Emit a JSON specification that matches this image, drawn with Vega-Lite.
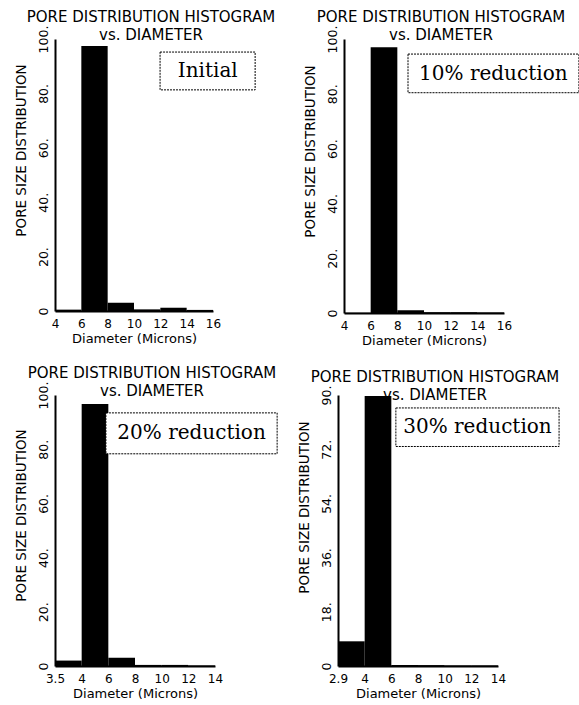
{
  "$schema": "https://vega.github.io/schema/vega-lite/v6.json",
  "background": "white",
  "padding": {"left": 14, "top": 10, "right": 0, "bottom": 0},
  "config": {
    "view": {"stroke": null},
    "font": "DejaVu Sans",
    "axis": {"grid": false, "ticks": false, "domainColor": "black", "domainWidth": 2, "labelColor": "black", "titleColor": "black", "labelFont": "DejaVu Sans", "titleFont": "DejaVu Sans", "labelFontSize": 12, "titleFontSize": 13, "titleFontWeight": "normal", "labelOverlap": false, "labelBound": false, "labelFlush": false},
    "axisX": {"labelFlush": false},
    "axisY": {"labelFontSize": 12.5, "titleFontSize": 13.5},
    "title": {"font": "DejaVu Sans", "fontSize": 15, "fontWeight": "normal", "color": "black", "subtitleFont": "DejaVu Sans", "subtitleFontSize": 15, "subtitleColor": "black", "subtitlePadding": 3, "anchor": "middle", "frame": "group", "offset": -18, "dx": 17}
  },
  "datasets": {
    "bins": [
      {"panel": "Initial", "lo": 0, "hi": 1, "value": 0.5},
      {"panel": "Initial", "lo": 1, "hi": 2, "value": 97.4},
      {"panel": "Initial", "lo": 2, "hi": 3, "value": 3},
      {"panel": "Initial", "lo": 3, "hi": 4, "value": 0.6},
      {"panel": "Initial", "lo": 4, "hi": 5, "value": 1.2},
      {"panel": "Initial", "lo": 5, "hi": 6, "value": 0.4},
      {"panel": "10%", "lo": 0, "hi": 1, "value": 0.1},
      {"panel": "10%", "lo": 1, "hi": 2, "value": 97},
      {"panel": "10%", "lo": 2, "hi": 3, "value": 1},
      {"panel": "10%", "lo": 3, "hi": 4, "value": 0.3},
      {"panel": "10%", "lo": 4, "hi": 5, "value": 0.3},
      {"panel": "10%", "lo": 5, "hi": 6, "value": 0.2},
      {"panel": "20%", "lo": 0, "hi": 1, "value": 2},
      {"panel": "20%", "lo": 1, "hi": 2, "value": 96.7},
      {"panel": "20%", "lo": 2, "hi": 3, "value": 3},
      {"panel": "20%", "lo": 3, "hi": 4, "value": 0.4},
      {"panel": "20%", "lo": 4, "hi": 5, "value": 0.4},
      {"panel": "20%", "lo": 5, "hi": 6, "value": 0.2},
      {"panel": "30%", "lo": 0, "hi": 1, "value": 8.2},
      {"panel": "30%", "lo": 1, "hi": 2, "value": 89.7},
      {"panel": "30%", "lo": 2, "hi": 3, "value": 0.3},
      {"panel": "30%", "lo": 3, "hi": 4, "value": 0.3},
      {"panel": "30%", "lo": 4, "hi": 5, "value": 0.2},
      {"panel": "30%", "lo": 5, "hi": 6, "value": 0.2}
    ],
    "notes": [
      {"panel": "Initial", "label": "Initial", "x0": 3.99, "x1": 7.6, "y0": 81.3, "y1": 95.2, "xc": 5.8, "yc": 88.2},
      {"panel": "10%", "label": "10% reduction", "x0": 2.4, "x1": 8.81, "y0": 80.4, "y1": 94.5, "xc": 5.6, "yc": 87.4},
      {"panel": "20%", "label": "20% reduction", "x0": 1.91, "x1": 8.33, "y0": 78.3, "y1": 93.4, "xc": 5.12, "yc": 85.8},
      {"panel": "30%", "label": "30% reduction", "x0": 2.17, "x1": 8.29, "y0": 72.9, "y1": 85.7, "xc": 5.23, "yc": 79.3}
    ]
  },
  "spacing": 19,
  "vconcat": [
    {
      "hconcat": [
        {
          "width": 158, "height": 272,
          "title": {"text": "PORE DISTRIBUTION HISTOGRAM", "subtitle": "vs. DIAMETER"},
          "layer": [
            {
              "data": {"name": "bins"},
              "transform": [{"filter": "datum.panel == 'Initial'"}],
              "mark": {"type": "rect", "color": "black"},
              "encoding": {
                "x": {"field": "lo", "type": "quantitative", "scale": {"domain": [0, 6], "nice": false, "zero": false}, "axis": {"values": [0,1,2,3,4,5,6], "labelOverlap": false, "labelFlush": false, "labelExpr": "['4','6','8','10','12','14','16'][datum.value]", "title": "Diameter (Microns)", "labelPadding": 7, "titlePadding": 3}},
                "x2": {"field": "hi"},
                "y": {"field": "value", "type": "quantitative", "scale": {"domain": [0, 100], "nice": false, "zero": false}, "axis": {"values": [0,20,40,60,80,100], "labelOverlap": false, "labelExpr": "datum.value == 0 ? '0' : datum.value + '.'", "labelAngle": 270, "labelPadding": 5, "title": "PORE SIZE DISTRIBUTION", "titlePadding": 9, "titleY": 111}},
                "y2": {"datum": 0}
              }
            },
            {
              "data": {"name": "notes"},
              "transform": [{"filter": "datum.panel == 'Initial'"}],
              "mark": {"type": "rect", "fill": "white", "stroke": "black", "strokeWidth": 1, "strokeDash": [2, 1], "clip": false},
              "encoding": {
                "x": {"field": "x0", "type": "quantitative", "scale": {"domain": [0, 6], "nice": false, "zero": false}, "axis": {"values": [0,1,2,3,4,5,6], "labelOverlap": false, "labelFlush": false, "labelExpr": "['4','6','8','10','12','14','16'][datum.value]", "title": "Diameter (Microns)", "labelPadding": 7, "titlePadding": 3}},
                "x2": {"field": "x1"},
                "y": {"field": "y0", "type": "quantitative", "scale": {"domain": [0, 100], "nice": false, "zero": false}, "axis": {"values": [0,20,40,60,80,100], "labelOverlap": false, "labelExpr": "datum.value == 0 ? '0' : datum.value + '.'", "labelAngle": 270, "labelPadding": 5, "title": "PORE SIZE DISTRIBUTION", "titlePadding": 9, "titleY": 111}},
                "y2": {"field": "y1"}
              }
            },
            {
              "data": {"name": "notes"},
              "transform": [{"filter": "datum.panel == 'Initial'"}],
              "mark": {"type": "text", "font": "DejaVu Serif", "fontSize": 20, "color": "black", "align": "center", "baseline": "middle", "clip": false},
              "encoding": {
                "x": {"field": "xc", "type": "quantitative", "scale": {"domain": [0, 6], "nice": false, "zero": false}, "axis": {"values": [0,1,2,3,4,5,6], "labelOverlap": false, "labelFlush": false, "labelExpr": "['4','6','8','10','12','14','16'][datum.value]", "title": "Diameter (Microns)", "labelPadding": 7, "titlePadding": 3}},
                "y": {"field": "yc", "type": "quantitative", "scale": {"domain": [0, 100], "nice": false, "zero": false}, "axis": {"values": [0,20,40,60,80,100], "labelOverlap": false, "labelExpr": "datum.value == 0 ? '0' : datum.value + '.'", "labelAngle": 270, "labelPadding": 5, "title": "PORE SIZE DISTRIBUTION", "titlePadding": 9, "titleY": 111}},
                "text": {"field": "label"}
              }
            }
          ]
        },
        {
          "width": 160, "height": 274,
          "title": {"text": "PORE DISTRIBUTION HISTOGRAM", "subtitle": "vs. DIAMETER"},
          "layer": [
            {
              "data": {"name": "bins"},
              "transform": [{"filter": "datum.panel == '10%'"}],
              "mark": {"type": "rect", "color": "black"},
              "encoding": {
                "x": {"field": "lo", "type": "quantitative", "scale": {"domain": [0, 6], "nice": false, "zero": false}, "axis": {"values": [0,1,2,3,4,5,6], "labelOverlap": false, "labelFlush": false, "labelExpr": "['4','6','8','10','12','14','16'][datum.value]", "title": "Diameter (Microns)", "labelPadding": 7, "titlePadding": 3}},
                "x2": {"field": "hi"},
                "y": {"field": "value", "type": "quantitative", "scale": {"domain": [0, 100], "nice": false, "zero": false}, "axis": {"values": [0,20,40,60,80,100], "labelOverlap": false, "labelExpr": "datum.value == 0 ? '0' : datum.value + '.'", "labelAngle": 270, "labelPadding": 5, "title": "PORE SIZE DISTRIBUTION", "titlePadding": 9, "titleY": 112}},
                "y2": {"datum": 0}
              }
            },
            {
              "data": {"name": "notes"},
              "transform": [{"filter": "datum.panel == '10%'"}],
              "mark": {"type": "rect", "fill": "white", "stroke": "black", "strokeWidth": 1, "strokeDash": [2, 1], "clip": false},
              "encoding": {
                "x": {"field": "x0", "type": "quantitative", "scale": {"domain": [0, 6], "nice": false, "zero": false}, "axis": {"values": [0,1,2,3,4,5,6], "labelOverlap": false, "labelFlush": false, "labelExpr": "['4','6','8','10','12','14','16'][datum.value]", "title": "Diameter (Microns)", "labelPadding": 7, "titlePadding": 3}},
                "x2": {"field": "x1"},
                "y": {"field": "y0", "type": "quantitative", "scale": {"domain": [0, 100], "nice": false, "zero": false}, "axis": {"values": [0,20,40,60,80,100], "labelOverlap": false, "labelExpr": "datum.value == 0 ? '0' : datum.value + '.'", "labelAngle": 270, "labelPadding": 5, "title": "PORE SIZE DISTRIBUTION", "titlePadding": 9, "titleY": 112}},
                "y2": {"field": "y1"}
              }
            },
            {
              "data": {"name": "notes"},
              "transform": [{"filter": "datum.panel == '10%'"}],
              "mark": {"type": "text", "font": "DejaVu Serif", "fontSize": 20, "color": "black", "align": "center", "baseline": "middle", "clip": false},
              "encoding": {
                "x": {"field": "xc", "type": "quantitative", "scale": {"domain": [0, 6], "nice": false, "zero": false}, "axis": {"values": [0,1,2,3,4,5,6], "labelOverlap": false, "labelFlush": false, "labelExpr": "['4','6','8','10','12','14','16'][datum.value]", "title": "Diameter (Microns)", "labelPadding": 7, "titlePadding": 3}},
                "y": {"field": "yc", "type": "quantitative", "scale": {"domain": [0, 100], "nice": false, "zero": false}, "axis": {"values": [0,20,40,60,80,100], "labelOverlap": false, "labelExpr": "datum.value == 0 ? '0' : datum.value + '.'", "labelAngle": 270, "labelPadding": 5, "title": "PORE SIZE DISTRIBUTION", "titlePadding": 9, "titleY": 112}},
                "text": {"field": "label"}
              }
            }
          ]
        }
      ],
      "spacing": 131,
      "bounds": "flush"
    },
    {
      "hconcat": [
        {
          "width": 160, "height": 271,
          "title": {"text": "PORE DISTRIBUTION HISTOGRAM", "subtitle": "vs. DIAMETER"},
          "layer": [
            {
              "data": {"name": "bins"},
              "transform": [{"filter": "datum.panel == '20%'"}],
              "mark": {"type": "rect", "color": "black"},
              "encoding": {
                "x": {"field": "lo", "type": "quantitative", "scale": {"domain": [0, 6], "nice": false, "zero": false}, "axis": {"values": [0,1,2,3,4,5,6], "labelOverlap": false, "labelFlush": false, "labelExpr": "['3.5','4','6','8','10','12','14'][datum.value]", "title": "Diameter (Microns)", "labelPadding": 7, "titlePadding": 3}},
                "x2": {"field": "hi"},
                "y": {"field": "value", "type": "quantitative", "scale": {"domain": [0, 100], "nice": false, "zero": false}, "axis": {"values": [0,20,40,60,80,100], "labelOverlap": false, "labelExpr": "datum.value == 0 ? '0' : datum.value + '.'", "labelAngle": 270, "labelPadding": 5, "title": "PORE SIZE DISTRIBUTION", "titlePadding": 9, "titleY": 120}},
                "y2": {"datum": 0}
              }
            },
            {
              "data": {"name": "notes"},
              "transform": [{"filter": "datum.panel == '20%'"}],
              "mark": {"type": "rect", "fill": "white", "stroke": "black", "strokeWidth": 1, "strokeDash": [2, 1], "clip": false},
              "encoding": {
                "x": {"field": "x0", "type": "quantitative", "scale": {"domain": [0, 6], "nice": false, "zero": false}, "axis": {"values": [0,1,2,3,4,5,6], "labelOverlap": false, "labelFlush": false, "labelExpr": "['3.5','4','6','8','10','12','14'][datum.value]", "title": "Diameter (Microns)", "labelPadding": 7, "titlePadding": 3}},
                "x2": {"field": "x1"},
                "y": {"field": "y0", "type": "quantitative", "scale": {"domain": [0, 100], "nice": false, "zero": false}, "axis": {"values": [0,20,40,60,80,100], "labelOverlap": false, "labelExpr": "datum.value == 0 ? '0' : datum.value + '.'", "labelAngle": 270, "labelPadding": 5, "title": "PORE SIZE DISTRIBUTION", "titlePadding": 9, "titleY": 120}},
                "y2": {"field": "y1"}
              }
            },
            {
              "data": {"name": "notes"},
              "transform": [{"filter": "datum.panel == '20%'"}],
              "mark": {"type": "text", "font": "DejaVu Serif", "fontSize": 20, "color": "black", "align": "center", "baseline": "middle", "clip": false},
              "encoding": {
                "x": {"field": "xc", "type": "quantitative", "scale": {"domain": [0, 6], "nice": false, "zero": false}, "axis": {"values": [0,1,2,3,4,5,6], "labelOverlap": false, "labelFlush": false, "labelExpr": "['3.5','4','6','8','10','12','14'][datum.value]", "title": "Diameter (Microns)", "labelPadding": 7, "titlePadding": 3}},
                "y": {"field": "yc", "type": "quantitative", "scale": {"domain": [0, 100], "nice": false, "zero": false}, "axis": {"values": [0,20,40,60,80,100], "labelOverlap": false, "labelExpr": "datum.value == 0 ? '0' : datum.value + '.'", "labelAngle": 270, "labelPadding": 5, "title": "PORE SIZE DISTRIBUTION", "titlePadding": 9, "titleY": 120}},
                "text": {"field": "label"}
              }
            }
          ]
        },
        {
          "width": 160, "height": 271,
          "title": {"text": "PORE DISTRIBUTION HISTOGRAM", "subtitle": "vs. DIAMETER"},
          "layer": [
            {
              "data": {"name": "bins"},
              "transform": [{"filter": "datum.panel == '30%'"}],
              "mark": {"type": "rect", "color": "black"},
              "encoding": {
                "x": {"field": "lo", "type": "quantitative", "scale": {"domain": [0, 6], "nice": false, "zero": false}, "axis": {"values": [0,1,2,3,4,5,6], "labelOverlap": false, "labelFlush": false, "labelExpr": "['2.9','4','6','8','10','12','14'][datum.value]", "title": "Diameter (Microns)", "labelPadding": 7, "titlePadding": 3}},
                "x2": {"field": "hi"},
                "y": {"field": "value", "type": "quantitative", "scale": {"domain": [0, 90], "nice": false, "zero": false}, "axis": {"values": [0,18,36,54,72,90], "labelOverlap": false, "labelExpr": "datum.value == 0 ? '0' : datum.value + '.'", "labelAngle": 270, "labelPadding": 5, "title": "PORE SIZE DISTRIBUTION", "titlePadding": 9, "titleY": 112}},
                "y2": {"datum": 0}
              }
            },
            {
              "data": {"name": "notes"},
              "transform": [{"filter": "datum.panel == '30%'"}],
              "mark": {"type": "rect", "fill": "white", "stroke": "black", "strokeWidth": 1, "strokeDash": [2, 1], "clip": false},
              "encoding": {
                "x": {"field": "x0", "type": "quantitative", "scale": {"domain": [0, 6], "nice": false, "zero": false}, "axis": {"values": [0,1,2,3,4,5,6], "labelOverlap": false, "labelFlush": false, "labelExpr": "['2.9','4','6','8','10','12','14'][datum.value]", "title": "Diameter (Microns)", "labelPadding": 7, "titlePadding": 3}},
                "x2": {"field": "x1"},
                "y": {"field": "y0", "type": "quantitative", "scale": {"domain": [0, 90], "nice": false, "zero": false}, "axis": {"values": [0,18,36,54,72,90], "labelOverlap": false, "labelExpr": "datum.value == 0 ? '0' : datum.value + '.'", "labelAngle": 270, "labelPadding": 5, "title": "PORE SIZE DISTRIBUTION", "titlePadding": 9, "titleY": 112}},
                "y2": {"field": "y1"}
              }
            },
            {
              "data": {"name": "notes"},
              "transform": [{"filter": "datum.panel == '30%'"}],
              "mark": {"type": "text", "font": "DejaVu Serif", "fontSize": 20, "color": "black", "align": "center", "baseline": "middle", "clip": false},
              "encoding": {
                "x": {"field": "xc", "type": "quantitative", "scale": {"domain": [0, 6], "nice": false, "zero": false}, "axis": {"values": [0,1,2,3,4,5,6], "labelOverlap": false, "labelFlush": false, "labelExpr": "['2.9','4','6','8','10','12','14'][datum.value]", "title": "Diameter (Microns)", "labelPadding": 7, "titlePadding": 3}},
                "y": {"field": "yc", "type": "quantitative", "scale": {"domain": [0, 90], "nice": false, "zero": false}, "axis": {"values": [0,18,36,54,72,90], "labelOverlap": false, "labelExpr": "datum.value == 0 ? '0' : datum.value + '.'", "labelAngle": 270, "labelPadding": 5, "title": "PORE SIZE DISTRIBUTION", "titlePadding": 9, "titleY": 112}},
                "text": {"field": "label"}
              }
            }
          ]
        }
      ],
      "spacing": 123,
      "bounds": "flush"
    }
  ]
}
